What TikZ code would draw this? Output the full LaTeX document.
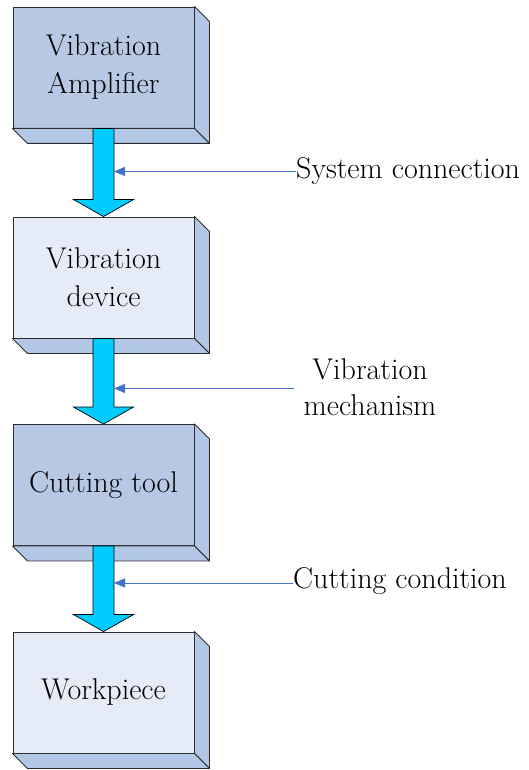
\documentclass[tikz,border=0pt]{standalone}
\usetikzlibrary{calc,arrows.meta}

\definecolor{boxdark}{RGB}{182,200,228}
\definecolor{boxlight}{RGB}{229,236,247}
\definecolor{boxside}{RGB}{178,198,230}
\definecolor{flowcyan}{RGB}{0,204,255}
\definecolor{tagblue}{RGB}{68,114,196}
\definecolor{edgegray}{RGB}{45,45,45}

\tikzset{
  blockface/.style={draw=edgegray, line width=0.9pt, minimum width=181pt,
    minimum height=121pt, inner sep=0pt, align=center,
    font=\fontsize{30}{38}\selectfont},
  darkface/.style={blockface, fill=boxdark},
  lightface/.style={blockface, fill=boxlight},
  sideface/.style={draw=edgegray, line width=0.9pt, fill=boxside, line join=round},
  flowbar/.style={draw=black, line width=0.7pt, fill=flowcyan, line join=miter},
  tagline/.style={draw=tagblue, line width=0.9pt, -{Triangle[length=11pt,width=9pt]}},
  tagtext/.style={inner sep=0pt, align=center, font=\fontsize{30}{36}\selectfont}
}

% depth faces of a block (offset 15 right and down)
\newcommand{\blockdepth}[1]{%
  \path[sideface] (#1.north east) -- ++(15,15) -- ($(#1.south east)+(15,15)$)
    -- (#1.south east) -- cycle;
  \path[sideface] (#1.south west) -- ++(15,15) -- ($(#1.south east)+(15,15)$)
    -- (#1.south east) -- cycle;
}
% thick downward flow arrow from one block to the next
\newcommand{\flowarrow}[2]{%
  \path[flowbar] ($(#1.south)+(-10.5,0)$) -- ($(#2.north)+(-10.5,-17)$)
    -- ($(#2.north)+(-30,-17)$) -- (#2.north) -- ($(#2.north)+(30,-17)$)
    -- ($(#2.north)+(10.5,-17)$) -- ($(#1.south)+(10.5,0)$) -- cycle;
}

\begin{document}
\begin{tikzpicture}[x=1pt,y=-1pt]
\useasboundingbox (0,0) rectangle (529,770);

% blocks (front faces)
\node[darkface]  (amp)  at (103.5,67.5)  {Vibration\\Amplifier};
\node[lightface] (dev)  at (103.5,277.5) {Vibration\\device};
\node[darkface]  (tool) at (103.5,485)   {Cutting tool};
\node[lightface] (work) at (103.5,692.5) {Workpiece};

\blockdepth{amp}
\blockdepth{dev}
\blockdepth{tool}
\blockdepth{work}

% flow arrows
\flowarrow{amp}{dev}
\flowarrow{dev}{tool}
\flowarrow{tool}{work}

% points on the right edge of each shaft
\coordinate (p1) at ($(amp.south)+(10.5,43)$);
\coordinate (p2) at ($(dev.south)+(10.5,50)$);
\coordinate (p3) at ($(tool.south)+(10.5,37)$);

% labels
\node[tagtext, anchor=west] (t1) at (296,171) {System connection};
\node[tagtext] (t2) at (370,387) {Vibration\\mechanism};
\node[tagtext, anchor=west] (t3) at (293,581) {Cutting condition};

\draw[tagline] (t1.west |- p1) -- (p1);
\draw[tagline] ([xshift=-10pt]t2.west |- p2) -- (p2);
\draw[tagline] (t3.west |- p3) -- (p3);
\end{tikzpicture}
\end{document}
